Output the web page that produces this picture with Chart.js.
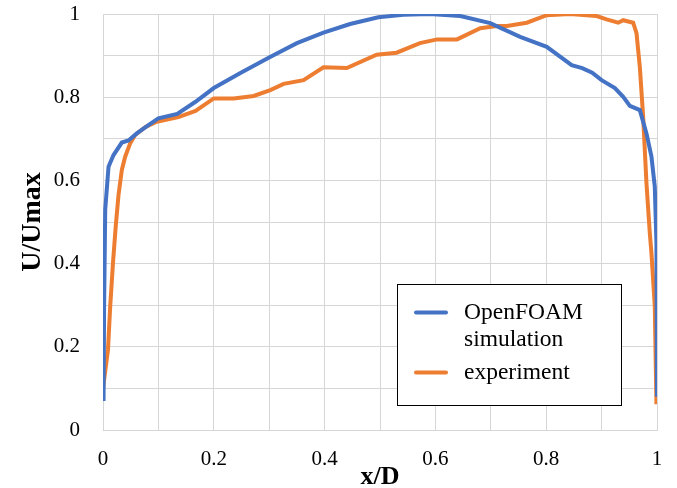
<!DOCTYPE html>
<html lang="en">
<head>
    <meta charset="UTF-8">
    <title>U/Umax profile</title>
    <script src="https://cdn.jsdelivr.net/npm/chart.js"></script>
    <style>
        body { margin: 0; background: #fff; }
    </style>
</head>
<body>
    <canvas id="chart" width="677" height="488"></canvas>

    <script>
        // values
        const simX = [0.001, 0.002, 0.004, 0.010, 0.019, 0.034, 0.046, 0.061, 0.082, 0.100, 0.134, 0.167, 0.200,
            0.248, 0.299, 0.350, 0.398, 0.446, 0.497, 0.542, 0.590, 0.645, 0.699, 0.753, 0.801, 0.846, 0.865,
            0.883, 0.90, 0.924, 0.939, 0.951, 0.969, 0.981, 0.990, 0.996, 0.999, 1.0];
        const simY = [0.07, 0.30, 0.53, 0.633, 0.661, 0.691, 0.696, 0.713, 0.733, 0.749, 0.760, 0.789, 0.822,
            0.858, 0.895, 0.930, 0.955, 0.976, 0.992, 0.998, 1.0, 0.995, 0.978, 0.945, 0.921, 0.877, 0.870,
            0.859, 0.841, 0.822, 0.801, 0.779, 0.769, 0.713, 0.657, 0.585, 0.45, 0.08];

        const expX = [0, 0.009, 0.013, 0.018, 0.023, 0.028, 0.034, 0.040, 0.049, 0.058, 0.076, 0.097, 0.136, 0.167,
            0.200, 0.236, 0.272, 0.302, 0.326, 0.362, 0.398, 0.440, 0.494, 0.530, 0.572, 0.603, 0.639, 0.681, 0.711,
            0.729, 0.765, 0.801, 0.843, 0.891, 0.909, 0.930, 0.939, 0.957, 0.963, 0.969, 0.975, 0.978, 0.981, 0.987,
            0.990, 0.996, 0.999];
        const expY = [0.10, 0.193, 0.297, 0.401, 0.49, 0.565, 0.625, 0.657, 0.689, 0.709, 0.728, 0.741, 0.752, 0.767,
            0.797, 0.797, 0.803, 0.817, 0.832, 0.841, 0.872, 0.870, 0.902, 0.907, 0.930, 0.939, 0.939, 0.966, 0.971,
            0.971, 0.979, 0.997, 1.0, 0.995, 0.987, 0.979, 0.985, 0.979, 0.954, 0.873, 0.753, 0.673, 0.593, 0.473,
            0.425, 0.297, 0.062];

        const xTickLabels = ['0', '0.2', '0.4', '0.6', '0.8', '1'];
        const yTickLabels = ['0', '0.2', '0.4', '0.6', '0.8', '1'];
        const seriesNames = ['OpenFOAM simulation', 'experiment'];

        const serif = '"Liberation Serif", "Times New Roman", serif';
        const gridColor = '#d6d6d6';

        const toPoints = (xs, ys) => xs.map((x, i) => ({ x: x, y: ys[i] }));
        const everyOther = labels => (value, index) => index % 2 === 0 ? labels[index / 2] : '';

        // boxed legend with word wrap, like the original
        const boxLegend = {
            id: 'boxLegend',
            afterDraw(chart) {
                const ctx = chart.ctx;
                const box = { left: 397, top: 284, right: 621, bottom: 405 };
                const textX = 464;
                const lineH = 27.5;
                const maxW = box.right - textX - 12;
                ctx.save();
                ctx.fillStyle = '#fff';
                ctx.fillRect(box.left, box.top, box.right - box.left, box.bottom - box.top);
                ctx.strokeStyle = '#000';
                ctx.lineWidth = 1;
                ctx.strokeRect(box.left + 0.5, box.top + 0.5, box.right - box.left, box.bottom - box.top);
                ctx.font = '23.5px ' + serif;
                ctx.textBaseline = 'middle';
                ctx.textAlign = 'left';
                let y = 312.5;
                chart.data.datasets.forEach(ds => {
                    // wrap words
                    const words = ds.label.split(' ');
                    const lines = [];
                    let cur = '';
                    words.forEach(w => {
                        const test = cur ? cur + ' ' + w : w;
                        if (cur && ctx.measureText(test).width > maxW) {
                            lines.push(cur);
                            cur = w;
                        } else {
                            cur = test;
                        }
                    });
                    lines.push(cur);

                    ctx.strokeStyle = ds.borderColor;
                    ctx.lineWidth = 4;
                    ctx.lineCap = 'round';
                    ctx.beginPath();
                    ctx.moveTo(416, y);
                    ctx.lineTo(446, y);
                    ctx.stroke();

                    ctx.fillStyle = '#000';
                    lines.forEach((t, i) => ctx.fillText(t, textX, y + i * lineH));
                    y += lines.length * lineH + 5;
                });
                ctx.restore();
            }
        };

        new Chart(document.getElementById('chart'), {
            type: 'line',
            data: {
                datasets: [
                    {
                        label: seriesNames[0],
                        data: toPoints(simX, simY),
                        borderColor: '#4472C4',
                        borderWidth: 4,
                        pointRadius: 0,
                        tension: 0,
                        fill: false
                    },
                    {
                        label: seriesNames[1],
                        data: toPoints(expX, expY),
                        borderColor: '#ED7D31',
                        borderWidth: 4,
                        pointRadius: 0,
                        tension: 0,
                        fill: false
                    }
                ]
            },
            options: {
                responsive: false,
                animation: false,
                layout: { padding: { left: 0, right: 20, top: 14, bottom: 0 } },
                plugins: {
                    legend: { display: false },
                    tooltip: { enabled: false }
                },
                scales: {
                    x: {
                        type: 'linear',
                        min: 0,
                        max: 1,
                        afterFit: scale => {
                            scale.height = 58;
                            scale.paddingLeft = 0;
                            scale.paddingRight = 0;
                        },
                        ticks: {
                            stepSize: 0.1,
                            autoSkip: false,
                            maxRotation: 0,
                            padding: 17,
                            color: '#000',
                            font: { family: serif, size: 21 },
                            callback: everyOther(xTickLabels)
                        },
                        grid: { color: gridColor, drawTicks: false },
                        border: { color: gridColor },
                        title: {
                            display: true,
                            text: 'x/D',
                            color: '#000',
                            font: { family: serif, size: 26, weight: 'bold', lineHeight: 0.85 },
                            padding: { top: 0, bottom: 0 }
                        }
                    },
                    y: {
                        min: 0,
                        max: 1,
                        afterFit: scale => {
                            scale.width = 103;
                            scale.paddingTop = 0;
                            scale.paddingBottom = 0;
                        },
                        ticks: {
                            stepSize: 0.1,
                            autoSkip: false,
                            padding: 23,
                            color: '#000',
                            font: { family: serif, size: 21 },
                            callback: everyOther(yTickLabels)
                        },
                        grid: { color: gridColor, drawTicks: false },
                        border: { color: gridColor },
                        title: {
                            display: true,
                            text: 'U/Umax',
                            color: '#000',
                            font: { family: serif, size: 28, weight: 'bold', lineHeight: 1.2 },
                            padding: { top: 16, bottom: 0 }
                        }
                    }
                }
            },
            plugins: [boxLegend]
        });
    </script>
</body>
</html>
